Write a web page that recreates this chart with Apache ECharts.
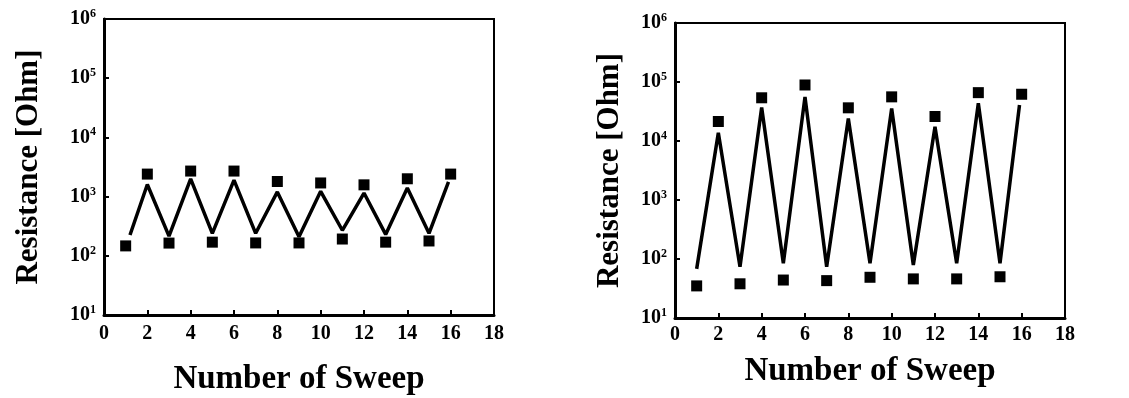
<!DOCTYPE html>
<html>
<head>
<meta charset="utf-8">
<script src="https://cdn.jsdelivr.net/npm/echarts@6/dist/echarts.min.js"></script>
<style>html,body{margin:0;padding:0;background:#fff;}#c{width:1129px;height:398px;}</style>
</head>
<body>
<div id="c"></div>
<script>
// ---- data ----
const sweep = [1, 2, 3, 4, 5, 6, 7, 8, 9, 10, 11, 12, 13, 14, 15, 16];
const xTicks = [0, 2, 4, 6, 8, 10, 12, 14, 16, 18];
const yTickExponents = [1, 2, 3, 4, 5, 6];

const leftMarkers = [147, 2400, 164, 2700, 170, 2700, 165, 1800, 165, 1700, 192, 1580, 170, 2000, 178, 2400];
const leftLineX = [1.2, 2, 3, 4, 5, 6, 7, 8, 9, 10, 11, 12, 13, 14, 15, 15.9];
const leftLine = [225, 1600, 215, 2000, 240, 1900, 240, 1200, 210, 1230, 270, 1150, 230, 1400, 240, 1780];

const rightMarkers = [35, 21400, 38, 54000, 44, 89000, 43, 36500, 49, 56000, 46, 26000, 46, 66000, 50, 62000];
const rightLineX = [1.0, 2, 3, 4, 5, 6, 7, 8, 9, 10, 11, 12, 13, 14, 15, 15.9];
const rightLine = [68, 13800, 74, 37000, 85, 56000, 74, 24000, 85, 35500, 79, 17400, 85, 43600, 85, 40700];

const xTitle = 'Number of Sweep';
const yTitle = 'Resistance [Ohm]';

// ---- chart ----
const FONT = '"Liberation Serif", "DejaVu Serif", serif';
const pair = (xs, ys) => xs.map((x, i) => [x, ys[i]]);

function xAxis(gi) {
  return {
    type: 'value', gridIndex: gi, min: xTicks[0], max: xTicks[xTicks.length - 1], interval: 2,
    name: xTitle, nameLocation: 'middle', nameGap: gi === 0 ? 48 : 37,
    nameTextStyle: { fontFamily: FONT, fontWeight: 'bold', fontSize: 33, color: '#000' },
    axisLine: { show: true, lineStyle: { color: '#000', width: 3 } },
    axisTick: { show: true, inside: true, length: 5, lineStyle: { color: '#000', width: 2 } },
    axisLabel: { fontFamily: FONT, fontWeight: 'bold', fontSize: 20, color: '#000', margin: gi === 0 ? 9 : 7 },
    splitLine: { show: false }
  };
}
function yAxis(gi) {
  return {
    type: 'log', logBase: 10, gridIndex: gi,
    min: Math.pow(10, yTickExponents[0]), max: Math.pow(10, yTickExponents[yTickExponents.length - 1]),
    name: yTitle, nameLocation: 'middle', nameGap: gi === 0 ? 60 : 50,
    nameTextStyle: { fontFamily: FONT, fontWeight: 'bold', fontSize: 31, color: '#000' },
    axisLine: { show: true, lineStyle: { color: '#000', width: 3 } },
    axisTick: { show: true, inside: true, length: 5, lineStyle: { color: '#000', width: 2 } },
    axisLabel: {
      margin: 8,
      formatter: v => '{b|10}{s|' + Math.round(Math.log10(v)) + '}',
      rich: {
        b: { fontFamily: FONT, fontWeight: 'bold', fontSize: 20, color: '#000' },
        s: { fontFamily: FONT, fontWeight: 'bold', fontSize: 12, color: '#000', verticalAlign: 'bottom', padding: [0, 0, 10, 0] }
      }
    },
    splitLine: { show: false }
  };
}
function lineSeries(gi, xs, ys) {
  return {
    type: 'line', xAxisIndex: gi, yAxisIndex: gi, data: pair(xs, ys),
    showSymbol: false, symbol: 'none', lineStyle: { color: '#000', width: 3.5 }, z: 2
  };
}
function markerSeries(gi, ys) {
  return {
    type: 'scatter', xAxisIndex: gi, yAxisIndex: gi, data: pair(sweep, ys),
    symbol: 'rect', symbolSize: 11, itemStyle: { color: '#000', opacity: 1 }, z: 3
  };
}

const chart = echarts.init(document.getElementById('c'), null, { renderer: 'canvas' });
chart.setOption({
  backgroundColor: '#fff',
  animation: false,
  grid: [
    { left: 104, top: 19, width: 390, height: 296, outerBoundsMode: 'none', containLabel: false, show: true, borderColor: '#000', borderWidth: 2, backgroundColor: 'transparent' },
    { left: 675, top: 23, width: 390, height: 295, outerBoundsMode: 'none', containLabel: false, show: true, borderColor: '#000', borderWidth: 2, backgroundColor: 'transparent' }
  ],
  xAxis: [xAxis(0), xAxis(1)],
  yAxis: [yAxis(0), yAxis(1)],
  series: [
    lineSeries(0, leftLineX, leftLine),
    markerSeries(0, leftMarkers),
    lineSeries(1, rightLineX, rightLine),
    markerSeries(1, rightMarkers)
  ]
});
</script>
</body>
</html>
